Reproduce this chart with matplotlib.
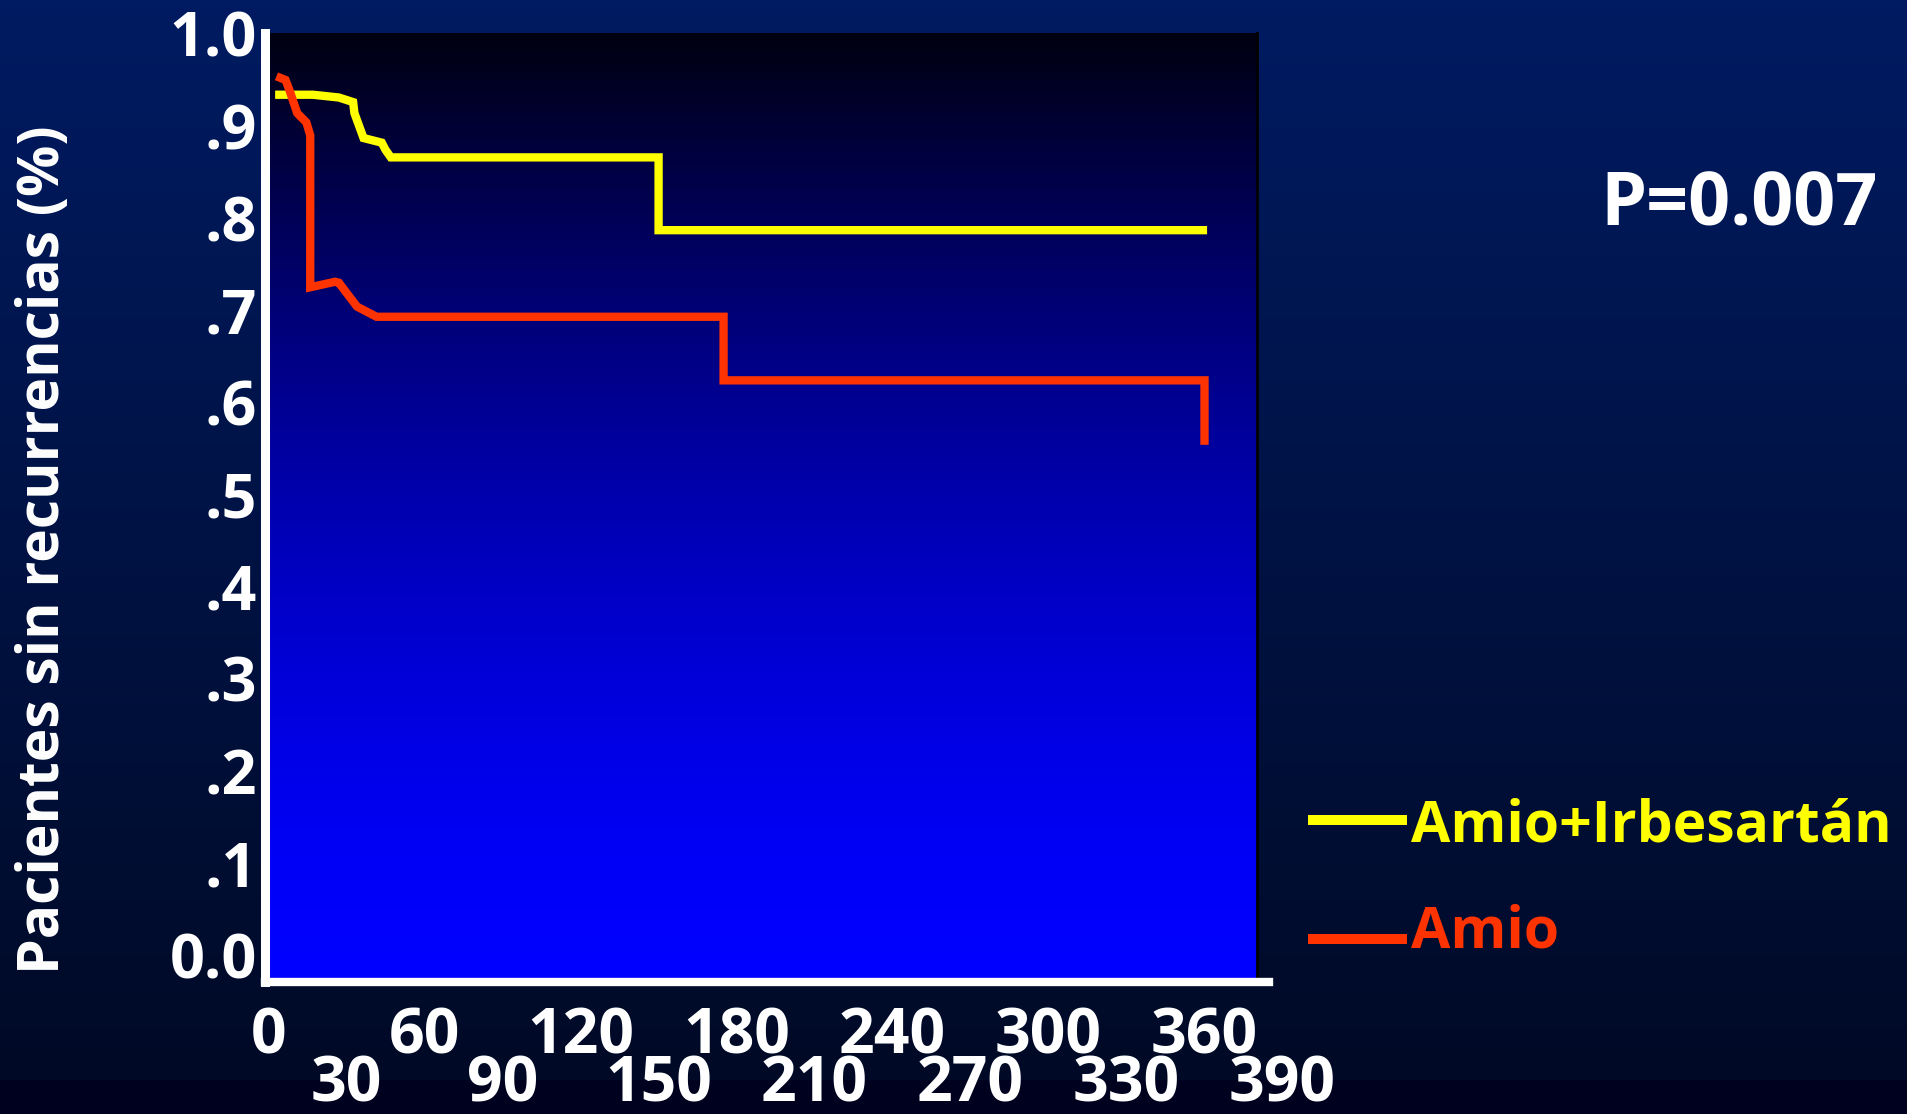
import numpy as np
import matplotlib
matplotlib.use("Agg")
import matplotlib.pyplot as plt
from matplotlib.lines import Line2D

plt.rcParams['font.family'] = ['Open Sans', 'DejaVu Sans']
plt.rcParams['font.weight'] = 'bold'

# Kaplan-Meier curves: days of follow-up vs fraction free of recurrence
combo_days = [2.5, 17, 27, 32.5, 33, 36.5, 43.5, 45, 47, 150, 150, 361]
combo_surv = [0.934, 0.934, 0.931, 0.926, 0.914, 0.887, 0.882, 0.874, 0.866,
              0.866, 0.787, 0.787]

amio_days = [3, 6.5, 8, 11, 14.5, 16, 16, 25.5, 27, 34, 41.5, 175, 175, 360, 360]
amio_surv = [0.954, 0.950, 0.939, 0.914, 0.904, 0.890, 0.725, 0.731, 0.730,
             0.704, 0.693, 0.693, 0.624, 0.624, 0.554]

series_labels = ['Amio+Irbesartán', 'Amio']
series_colors = ['#ffff00', '#ff3300']

y_ticks = [0.0, 0.1, 0.2, 0.3, 0.4, 0.5, 0.6, 0.7, 0.8, 0.9, 1.0]
y_tick_labels = ['0.0', '.1', '.2', '.3', '.4', '.5', '.6', '.7', '.8', '.9', '1.0']
x_ticks = [0, 30, 60, 90, 120, 150, 180, 210, 240, 270, 300, 330, 360, 390]

y_label = 'Pacientes sin recurrencias (%)'
p_text = 'P=0.007'

W, H = 1908, 1114
fig = plt.figure(figsize=(W / 100, H / 100), dpi=100)

# slide background: navy fading to near black, darker strip at the bottom
bg = fig.add_axes([0, 0, 1, 1], zorder=0)
rows = np.arange(H)[:, None]
top_c = np.array([0, 27, 98]) / 255
bot_c = np.array([0, 10, 38]) / 255
t = np.clip(rows / 1080, 0, 1)
grad = top_c * (1 - t) + bot_c * t
grad[rows[:, 0] >= 1080] = np.array([0, 1, 30]) / 255
bg.imshow(grad.reshape(H, 1, 3), aspect='auto', extent=[0, 1, 0, 1])
bg.axis('off')

left, right, top, bottom = 265, 1257, 33, 982
pos = [left / W, 1 - bottom / H, (right - left) / W, (bottom - top) / H]

# plot panel: black at the top to bright blue at the bottom
panel = fig.add_axes(pos, zorder=1)
tp = np.linspace(0, 1, 400)[:, None]
blue = (16 + 239 * (1 - (1 - tp) ** 1.6)) / 255
panel_img = np.dstack([np.zeros_like(blue), np.zeros_like(blue), blue])
panel.imshow(panel_img, aspect='auto', extent=[0, 1, 0, 1])
panel.axis('off')

ax = fig.add_axes(pos, zorder=2)
ax.patch.set_alpha(0)

for d, s, c in [(combo_days, combo_surv, series_colors[0]),
                (amio_days, amio_surv, series_colors[1])]:
    ax.plot(d, s, color=c, lw=6, solid_joinstyle='miter', solid_capstyle='butt')

ax.set_xlim(-1.4, 380.2)
ax.set_ylim(-0.029, 1.001)

ax.spines['top'].set_visible(False)
ax.spines['right'].set_color('black')
ax.spines['right'].set_linewidth(2)
ax.spines['left'].set_color('white')
ax.spines['left'].set_linewidth(6.5)
ax.spines['bottom'].set_color('white')
ax.spines['bottom'].set_linewidth(6)
ax.spines['bottom'].set_bounds(-1.4, 385)

ax.set_yticks(y_ticks, y_tick_labels)
ax.tick_params(axis='y', length=0, pad=6, labelsize=44, labelcolor='white')
ax.set_xticks([])

# staggered day labels in two rows
for i, d in enumerate(x_ticks):
    dy = -39.5 if i % 2 == 0 else -74.5
    ax.annotate(str(d), xy=(d, 0), xycoords=('data', 'axes fraction'),
                xytext=(0, dy), textcoords='offset points', ha='center',
                va='center', fontsize=45, color='white', annotation_clip=False)

fig.text(44 / W, 1 - 550 / H, y_label, rotation=90, ha='center', va='center',
         fontsize=41, color='white')
fig.text(1739 / W, 1 - 206 / H, p_text, ha='center', va='center',
         fontsize=53, color='white')

# legend drawn by hand to the right of the panel
for lab, c, ly, base in zip(series_labels, series_colors, [820, 939], [842, 948]):
    fig.add_artist(Line2D([1308 / W, 1407 / W], [1 - ly / H] * 2,
                          transform=fig.transFigure, color=c, lw=7.2,
                          solid_capstyle='butt'))
    fig.text(1411 / W, 1 - base / H, lab, ha='left', va='baseline',
             fontsize=41, color=c)

fig.savefig('out.png', dpi=100)
